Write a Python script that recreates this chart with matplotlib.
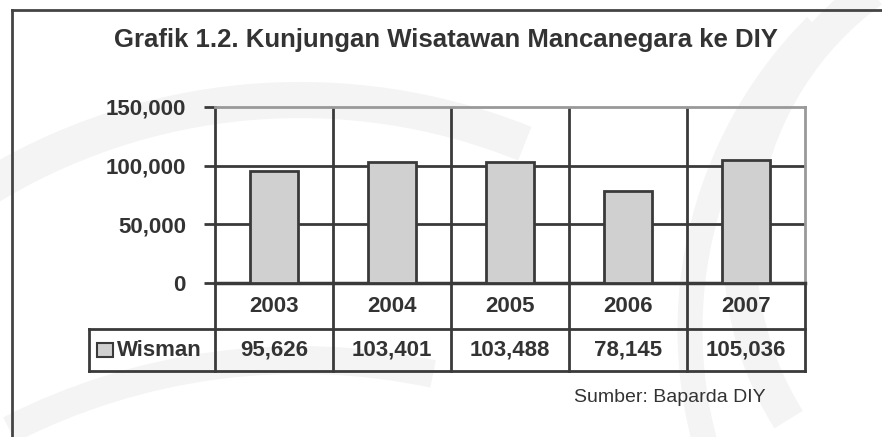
import numpy as np
import matplotlib
matplotlib.use("Agg")
import matplotlib.pyplot as plt
import matplotlib.transforms as mtransforms
from matplotlib.lines import Line2D
from matplotlib.patches import Rectangle, Arc

plt.rcParams['font.family'] = ['Liberation Sans', 'DejaVu Sans']

title = "Grafik 1.2. Kunjungan Wisatawan Mancanegara ke DIY"
years = ["2003", "2004", "2005", "2006", "2007"]
wisman = [95626, 103401, 103488, 78145, 105036]
series_name = "Wisman"
yticks = [0, 50000, 100000, 150000]
source = "Sumber: Baparda DIY"

txt = '#333333'
edge = '#3a3a3a'
barc = '#d0d0d0'
wm = '#f4f4f4'

fig = plt.figure(figsize=(8.82, 4.37), dpi=100)

# faint watermark swooshes behind everything (pixel coords, y down)
bg = fig.add_axes([0, 0, 1, 1], zorder=-5)
bg.set_xlim(0, 882)
bg.set_ylim(437, 0)
bg.axis('off')
for cx, cy, r, t1, t2, w in [(300, 700, 600, 238, 292, 26),
                             (300, 1000, 640, 243, 282, 20),
                             (1060, 250, 320, 148, 234, 24),
                             (1120, 330, 430, 160, 225, 18)]:
    bg.add_patch(Arc((cx, cy), 2*r, 2*r, theta1=t1, theta2=t2, color=wm, lw=w))

ax = fig.add_axes([215/882, 1-283/437, 590/882, 176/437])
ax.patch.set_alpha(0)

x = np.arange(len(years))
ax.bar(x, wisman, width=0.41, color=barc, edgecolor=edge, linewidth=2, zorder=3)
ax.set_xlim(-0.5, len(years)-0.5)
ax.set_ylim(0, 150000)
ax.set_yticks(yticks)
ax.set_yticklabels([f"{v:,}" for v in yticks], fontsize=16, fontweight='bold', color=txt)
ax.tick_params(axis='y', length=8, width=2, color=edge, pad=13)
ax.set_xticks([])
for v in yticks[1:-1]:
    ax.axhline(v, color=edge, lw=2, zorder=1)
for b in np.arange(0.5, len(years)-1, 1.0):
    ax.axvline(b, color=edge, lw=2, zorder=1)
ax.spines['left'].set_color(edge)
ax.spines['left'].set_linewidth(2)
ax.spines['bottom'].set_color(edge)
ax.spines['bottom'].set_linewidth(2.5)
for s in ['top', 'right']:
    ax.spines[s].set_color('#999999')
    ax.spines[s].set_linewidth(2)

# data table under the axis
tr = mtransforms.blended_transform_factory(ax.transData, ax.transAxes)
r1 = -46/176
r2 = -88/176
xl = -0.5 - 126/118
xr = len(years) - 0.5
kw = dict(transform=tr, color=edge, lw=2, clip_on=False)
ax.add_line(Line2D([xl, xr], [r1, r1], **kw))
ax.add_line(Line2D([xl, xr], [r2, r2], **kw))
ax.add_line(Line2D([xl, xl], [r1, r2], **kw))
for b in np.arange(-0.5, len(years), 1.0):
    ax.add_line(Line2D([b, b], [0, r2], **kw))
for i, (yr, v) in enumerate(zip(years, wisman)):
    ax.text(i, r1/2, yr, transform=tr, ha='center', va='center',
            fontsize=16, fontweight='bold', color=txt)
    ax.text(i, (r1+r2)/2, f"{v:,}", transform=tr, ha='center', va='center',
            fontsize=16, fontweight='bold', color=txt)
ax.add_patch(Rectangle((xl+0.07, (r1+r2)/2-0.037), 0.135, 0.074, transform=tr,
                       facecolor=barc, edgecolor=edge, lw=1.5, clip_on=False))
ax.text(xl+0.235, (r1+r2)/2, series_name, transform=tr, ha='left', va='center',
        fontsize=16, fontweight='bold', color=txt)

fig.text(446/882, 1-40/437, title, ha='center', va='center',
         fontsize=18.5, fontweight='bold', color=txt)
fig.text(574/882, 1-398/437, source, ha='left', va='center', fontsize=14, color=txt)

# outer frame
fig.add_artist(Line2D([12/882, 12/882], [0, 1-10/437], color='#444444', lw=2))
fig.add_artist(Line2D([12/882, 1], [1-10/437, 1-10/437], color='#444444', lw=2))

fig.savefig('out.png', dpi=100)
plt.close(fig)
